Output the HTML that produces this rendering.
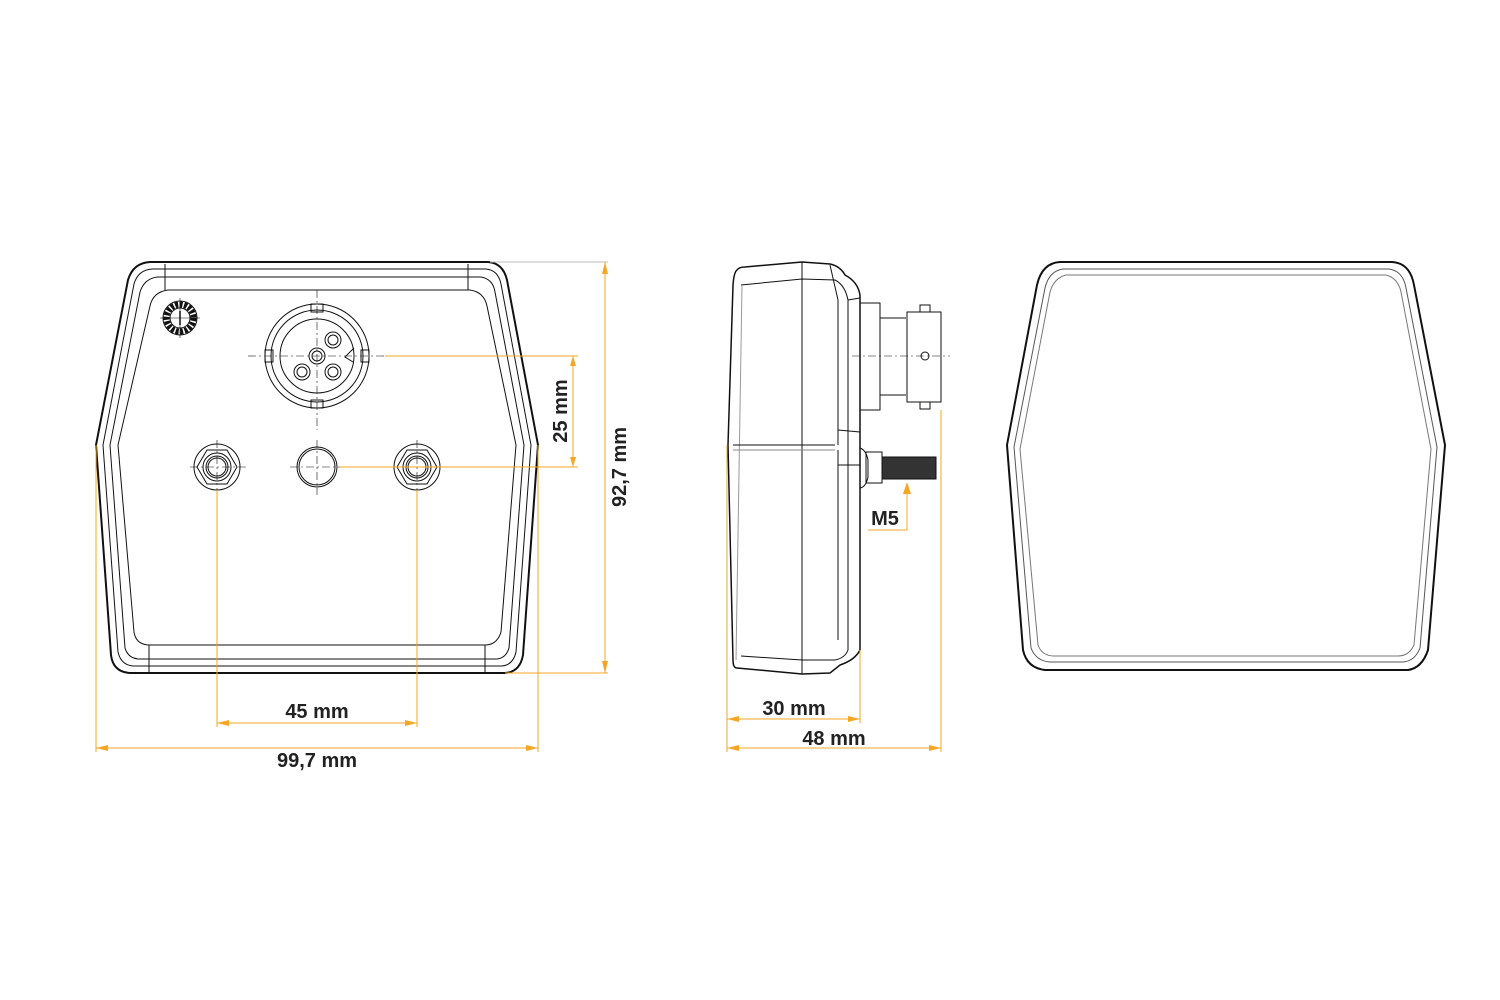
<!DOCTYPE html>
<html><head><meta charset="utf-8"><style>
html,body{margin:0;padding:0;background:#fff}
svg{display:block}
text{font-family:"Liberation Sans",sans-serif;font-weight:bold;font-size:20px;fill:#222}
</style></head><body>
<svg width="1500" height="1000" viewBox="0 0 1500 1000" xmlns="http://www.w3.org/2000/svg">
<g fill="none" stroke="#111" stroke-width="1">
<!-- FRONT VIEW -->
<path d="M150,262 L488,262 Q503,263 507,280 L538,445 L523,655 Q520,672 505,673 L130,673 Q113,672 111,655 L96,445 L128,280 Q133,263 150,262 Z" stroke-width="2"/>
<path d="M152,269 L486,269 Q498,270 501,284 L531,445 L516,652 Q513,665 502,666 L133,666 Q121,665 118,652 L103,445 L134,284 Q138,270 152,269 Z"/>
<path d="M157,277 L481,277 Q493,279 495,292 L524,445 L509,648 Q506,658 497,659 L138,659 Q128,658 125,648 L110,445 L140,292 Q144,279 157,277 Z"/>
<path d="M168,290 L470,290 Q484,292 487,306 L516,445 L501,632 Q497,645 485,645 L150,645 Q136,645 134,632 L118,445 L150,306 Q153,292 168,290 Z"/>
<line x1="165" y1="264" x2="165" y2="290"/><line x1="468" y1="264" x2="468" y2="290"/>
<line x1="149" y1="645" x2="149" y2="672"/><line x1="485" y1="645" x2="485" y2="672"/>
<!-- date clock -->
<circle cx="180" cy="318" r="17"/>
<circle cx="180" cy="318" r="13.5" stroke-width="6" stroke-dasharray="3,1.5"/>
<circle cx="180" cy="318" r="10"/>
<line x1="180" y1="311" x2="180" y2="325" stroke-width="1.5"/>
<line x1="160" y1="318" x2="200" y2="318" stroke-width="0.6"/><line x1="180" y1="298" x2="180" y2="338" stroke-width="0.6"/>
<!-- connector socket -->
<circle cx="317" cy="356" r="52"/>
<circle cx="317" cy="356" r="46"/>
<circle cx="317" cy="356" r="37"/>
<rect x="311" y="304" width="12" height="8"/><rect x="311" y="400" width="12" height="8"/>
<rect x="265" y="350" width="8" height="12"/><rect x="361" y="350" width="8" height="12"/>
<circle cx="317" cy="356" r="8"/><circle cx="317" cy="356" r="5"/>
<circle cx="333" cy="340" r="8"/><circle cx="333" cy="340" r="5"/>
<circle cx="333" cy="372" r="8"/><circle cx="333" cy="372" r="5"/>
<circle cx="302" cy="372" r="8"/><circle cx="302" cy="372" r="5"/>
<path d="M354,348 L345,357 L353,362"/>
<g stroke-width="0.6" stroke-dasharray="8,3,2,3">
<line x1="248" y1="356" x2="385" y2="356"/><line x1="317" y1="290" x2="317" y2="430"/>
<line x1="317" y1="440" x2="317" y2="495"/>
<line x1="190" y1="467" x2="246" y2="467"/><line x1="217" y1="440" x2="217" y2="495"/>
<line x1="390" y1="467" x2="446" y2="467"/><line x1="417" y1="440" x2="417" y2="495"/>
<line x1="290" y1="467" x2="343" y2="467"/>
</g>
<circle cx="317" cy="467" r="20"/><circle cx="317" cy="467" r="18"/>
<circle cx="217" cy="467" r="23"/><polygon points="237,467 227,484 207,484 197,467 207,450 227,450"/>
<circle cx="217" cy="467" r="14"/><circle cx="217" cy="467" r="11"/><circle cx="217" cy="467" r="9"/>
<circle cx="417" cy="467" r="23"/><polygon points="437,467 427,484 407,484 397,467 407,450 427,450"/>
<circle cx="417" cy="467" r="14"/><circle cx="417" cy="467" r="11"/><circle cx="417" cy="467" r="9"/>

<!-- SIDE VIEW -->
<path d="M737,270 Q739,267 745,267 L802,262 L830,264 Q840,266 845,275 Q858,282 860,295 L860,650 Q855,660 840,665 L830,673 L802,674 L737,668 Q733,668 733,660 L728,445 L733,285 Q734,272 737,270 Z" stroke-width="1.5"/>
<line x1="802" y1="262" x2="802" y2="674"/>
<path d="M741,285 L802,279 L835,280 Q845,285 848,300 L848,650 Q845,658 835,660 L802,660 L741,656"/>
<line x1="742" y1="285" x2="736" y2="660" stroke="#999"/>
<line x1="830" y1="265" x2="838" y2="300"/><line x1="838" y1="300" x2="838" y2="445"/>
<line x1="848" y1="300" x2="860" y2="298"/>
<line x1="733" y1="445" x2="835" y2="445"/><line x1="733" y1="450" x2="835" y2="450" stroke="#888"/>
<line x1="838" y1="450" x2="838" y2="640"/>
<line x1="838" y1="430" x2="860" y2="432"/><line x1="838" y1="465" x2="860" y2="465"/>
<rect x="860" y="303" width="20" height="107"/>
<polyline points="880,318 906,318"/><polyline points="880,395 906,395"/>
<rect x="907" y="312" width="34" height="90"/>
<rect x="920" y="305" width="10" height="7"/><rect x="920" y="402" width="10" height="7"/>
<circle cx="925" cy="356" r="4"/>
<line x1="852" y1="356" x2="950" y2="356" stroke-width="0.6" stroke-dasharray="8,3,2,3"/>
<path d="M860,448 Q866,450 868,460 L868,477 Q866,487 860,488"/>
<rect x="866" y="452" width="16" height="31"/>
<rect x="882" y="457" width="54" height="22" fill="#333"/>
<!-- RIGHT VIEW -->
<path d="M1060,262 L1392,262 Q1410,263 1414,285 L1445,445 L1428,650 Q1422,668 1408,670 L1045,670 Q1027,668 1023,650 L1007,445 L1037,285 Q1042,263 1060,262 Z" stroke-width="2"/>
<path d="M1063,269 L1389,269 Q1403,271 1406,288 L1437,447 L1420,648 Q1415,661 1403,662 L1050,662 Q1036,661 1031,648 L1014,447 L1045,288 Q1049,271 1063,269 Z" stroke="#555"/>
<path d="M1066,275 L1386,275 Q1398,278 1401,292 L1431,449 L1414,645 Q1409,656 1398,656 L1054,656 Q1042,656 1038,645 L1020,449 L1050,292 Q1054,278 1066,275 Z" stroke="#777"/>
</g>
<!-- DIMENSIONS -->
<g stroke="#f5a623" stroke-width="1" fill="none">
<line x1="490" y1="262" x2="608" y2="262" stroke="#bbb"/>
<line x1="505" y1="673" x2="608" y2="673"/>
<line x1="605" y1="262" x2="605" y2="673"/>
<line x1="385" y1="356" x2="578" y2="356"/>
<line x1="340" y1="467" x2="578" y2="467"/>
<line x1="573" y1="356" x2="573" y2="467"/>
<line x1="217" y1="490" x2="217" y2="727"/><line x1="417" y1="490" x2="417" y2="727"/>
<line x1="217" y1="723" x2="417" y2="723"/>
<line x1="96" y1="445" x2="96" y2="752"/><line x1="538" y1="445" x2="538" y2="752"/>
<line x1="96" y1="748" x2="538" y2="748"/>
<line x1="727" y1="445" x2="727" y2="752"/><line x1="860" y1="650" x2="860" y2="723"/>
<line x1="941" y1="410" x2="941" y2="752"/>
<line x1="727" y1="719" x2="860" y2="719"/><line x1="727" y1="748" x2="941" y2="748"/>
<polyline points="907,485 907,530 868,530"/>
</g>
<g fill="#f5a623">
<polygon points="605,262 602,274 608,274"/><polygon points="605,673 602,661 608,661"/>
<polygon points="573,356 570,366 576,366"/><polygon points="573,467 570,457 576,457"/>
<polygon points="217,723 229,720 229,726"/><polygon points="417,723 405,720 405,726"/>
<polygon points="96,748 108,745 108,751"/><polygon points="538,748 526,745 526,751"/>
<polygon points="727,719 739,716 739,722"/><polygon points="860,719 848,716 848,722"/>
<polygon points="727,748 739,745 739,751"/><polygon points="941,748 929,745 929,751"/>
<polygon points="907,482 903,494 911,494"/>
</g>
<text x="317" y="718" text-anchor="middle">45 mm</text>
<text x="317" y="767" text-anchor="middle">99,7 mm</text>
<text x="794" y="715" text-anchor="middle">30 mm</text>
<text x="834" y="745" text-anchor="middle">48 mm</text>
<text x="885" y="525" text-anchor="middle">M5</text>
<text transform="translate(567,411) rotate(-90)" text-anchor="middle">25 mm</text>
<text transform="translate(626,467) rotate(-90)" text-anchor="middle">92,7 mm</text>
</svg>
</body></html>
